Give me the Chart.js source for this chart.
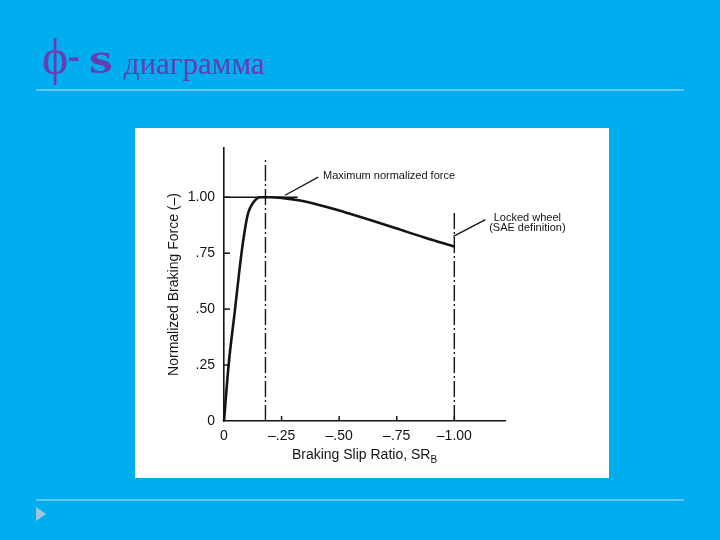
<!DOCTYPE html>
<html>
<head>
<meta charset="utf-8">
<script src="https://cdn.jsdelivr.net/npm/chart.js@4"></script>
<style>
  html,body{margin:0;padding:0;}
  body{width:720px;height:540px;background:#00aeef;position:relative;overflow:hidden;}
  .t{position:absolute;color:#6a3cb4;font-family:"Liberation Serif","DejaVu Serif",serif;white-space:nowrap;line-height:1;}
  #phi{left:42px;top:32px;font-size:50px;}
  #dash{left:68px;top:36px;font-size:36px;transform:scaleY(1.3);transform-origin:center;}
  #s{left:89px;top:36px;font-size:45px;font-weight:bold;transform:scaleX(1.35);transform-origin:left;}
  #word{left:124px;top:48px;font-size:31px;}
  .rule{position:absolute;left:36px;width:648px;height:2px;background:#5fcbf3;}
  #tri{position:absolute;left:36px;top:507px;width:0;height:0;border-left:10px solid #9fc3da;border-top:7px solid transparent;border-bottom:7px solid transparent;}
  #box{position:absolute;left:135px;top:128px;width:474px;height:350px;background:#fff;}
</style>
</head>
<body>
<span class="t" id="phi">ϕ</span><span class="t" id="dash">-</span><span class="t" id="s">s</span><span class="t" id="word">диаграмма</span>
<div class="rule" style="top:89px"></div>
<div class="rule" style="top:499px"></div>
<div id="tri"></div>
<div id="box"><canvas id="c" width="474" height="350"></canvas></div>
<script>
// ---- data ----
const slip  = [0, -0.02, -0.048, -0.073, -0.091, -0.105, -0.127, -0.157, -0.2, -0.25, -0.33, -0.45, -0.55, -0.635, -0.75, -0.87, -1.0];
const force = [0, 0.25, 0.50, 0.726, 0.857, 0.93, 0.976, 1.0, 1.0, 0.997, 0.985, 0.955, 0.925, 0.898, 0.86, 0.82, 0.78];
const xTicks = [0, -0.25, -0.5, -0.75, -1.0];
const xTickLabels = ['0', '\u2013.25', '\u2013.50', '\u2013.75', '\u20131.00'];
const yTicks = [0, 0.25, 0.5, 0.75, 1.0];
const yTickLabels = ['0', '.25', '.50', '.75', '1.00'];
const maxLineX = [0, -0.32];          // horizontal 1.00 line
const maxLineY = [1.0, 1.0];
const peakX = [-0.18, -0.18];         // dash-dot line at peak
const peakY = [0, 1.18];
const lockX = [-1.0, -1.0];           // dash-dot line at locked wheel
const lockY = [0, 0.93];
const lead1X = [-0.409, -0.265];
const lead1Y = [1.09, 1.009];
const lead2X = [-1.135, -0.996];
const lead2Y = [0.90, 0.825];
const noteTexts = ['Maximum normalized force', 'Locked wheel', '(SAE definition)'];
const noteX = [-0.43, -1.317, -1.317];
const noteY = [1.081, 0.894, 0.848];
const noteAlign = ['left', 'center', 'center'];
const yTitle = 'Normalized Braking Force (\u2013)';
const xTitle = 'Braking Slip Ratio, SR';
const xTitleSub = 'B';

const pts = (xs, ys) => xs.map((v, i) => ({x: v, y: ys[i]}));
const INK = '#141414';
const FONT = '"Liberation Sans", Arial, sans-serif';

const overlay = {
  id: 'overlay',
  afterDraw(chart) {
    const {ctx, chartArea: a, scales: {x, y}} = chart;
    ctx.save();
    ctx.strokeStyle = INK;
    ctx.lineWidth = 1.5;
    yTicks.forEach(v => {
      if (v === 0) return;
      const py = y.getPixelForValue(v);
      ctx.beginPath(); ctx.moveTo(a.left, py); ctx.lineTo(a.left + 6, py); ctx.stroke();
    });
    xTicks.forEach(v => {
      if (v === 0) return;
      const px = x.getPixelForValue(v);
      ctx.beginPath(); ctx.moveTo(px, a.bottom); ctx.lineTo(px, a.bottom - 5); ctx.stroke();
    });
    // x title with subscript
    ctx.fillStyle = INK;
    ctx.textBaseline = 'alphabetic';
    ctx.textAlign = 'left';
    ctx.font = '14px ' + FONT;
    const w1 = ctx.measureText(xTitle).width;
    ctx.font = '10px ' + FONT;
    const w2 = ctx.measureText(xTitleSub).width;
    const sx = (a.left + a.right) / 2 - (w1 + w2) / 2;
    const by = a.bottom + 38;
    ctx.font = '14px ' + FONT;
    ctx.fillText(xTitle, sx, by);
    ctx.font = '10px ' + FONT;
    ctx.fillText(xTitleSub, sx + w1, by + 4);
    // notes
    ctx.font = '11px ' + FONT;
    noteTexts.forEach((t, i) => {
      ctx.textAlign = noteAlign[i];
      ctx.fillText(t, x.getPixelForValue(noteX[i]), y.getPixelForValue(noteY[i]));
    });
    ctx.restore();
  }
};

const lineDs = (data, w, dash) => ({
  data, showLine: true, borderColor: INK, borderWidth: w, pointRadius: 0,
  borderDash: dash || [], fill: false, tension: 0, clip: false
});

new Chart(document.getElementById('c'), {
  type: 'scatter',
  data: {
    datasets: [
      Object.assign(lineDs(pts(slip, force), 2.6), {cubicInterpolationMode: 'monotone'}),
      lineDs(pts(maxLineX, maxLineY), 1.6),
      lineDs(pts(peakX, peakY), 1.4, [16, 3, 2, 3]),
      lineDs(pts(lockX, lockY), 1.4, [16, 3, 2, 3]),
      lineDs(pts(lead1X, lead1Y), 1.3),
      lineDs(pts(lead2X, lead2Y), 1.3)
    ]
  },
  options: {
    responsive: false,
    animation: false,
    layout: {padding: {left: 0, right: 104, top: 20, bottom: 0}},
    plugins: {legend: {display: false}, tooltip: {enabled: false}},
    scales: {
      x: {
        type: 'linear', min: -1.22, max: 0, reverse: true,
        grid: {display: false, drawTicks: false},
        border: {display: true, color: INK, width: 1.6},
        afterBuildTicks: s => { s.ticks = xTicks.map(v => ({value: v})); },
        afterFit: s => { s.height = 57; },
        ticks: {
          color: INK, font: {family: FONT, size: 14}, padding: 7, maxRotation: 0, autoSkip: false,
          callback: (v) => { const i = xTicks.findIndex(t => Math.abs(t - v) < 1e-9); return i >= 0 ? xTickLabels[i] : ''; }
        }
      },
      y: {
        type: 'linear', min: 0, max: 1.22,
        grid: {display: false, drawTicks: false},
        border: {display: true, color: INK, width: 1.6},
        afterBuildTicks: s => { s.ticks = yTicks.map(v => ({value: v})); },
        afterFit: s => { s.width = 89; },
        title: {display: true, text: yTitle, color: INK, font: {family: FONT, size: 14}, padding: {top: 31, bottom: 0}},
        ticks: {
          color: INK, font: {family: FONT, size: 14}, padding: 9, autoSkip: false,
          callback: (v) => { const i = yTicks.findIndex(t => Math.abs(t - v) < 1e-9); return i >= 0 ? yTickLabels[i] : ''; }
        }
      }
    }
  },
  plugins: [overlay]
});
</script>
</body>
</html>
